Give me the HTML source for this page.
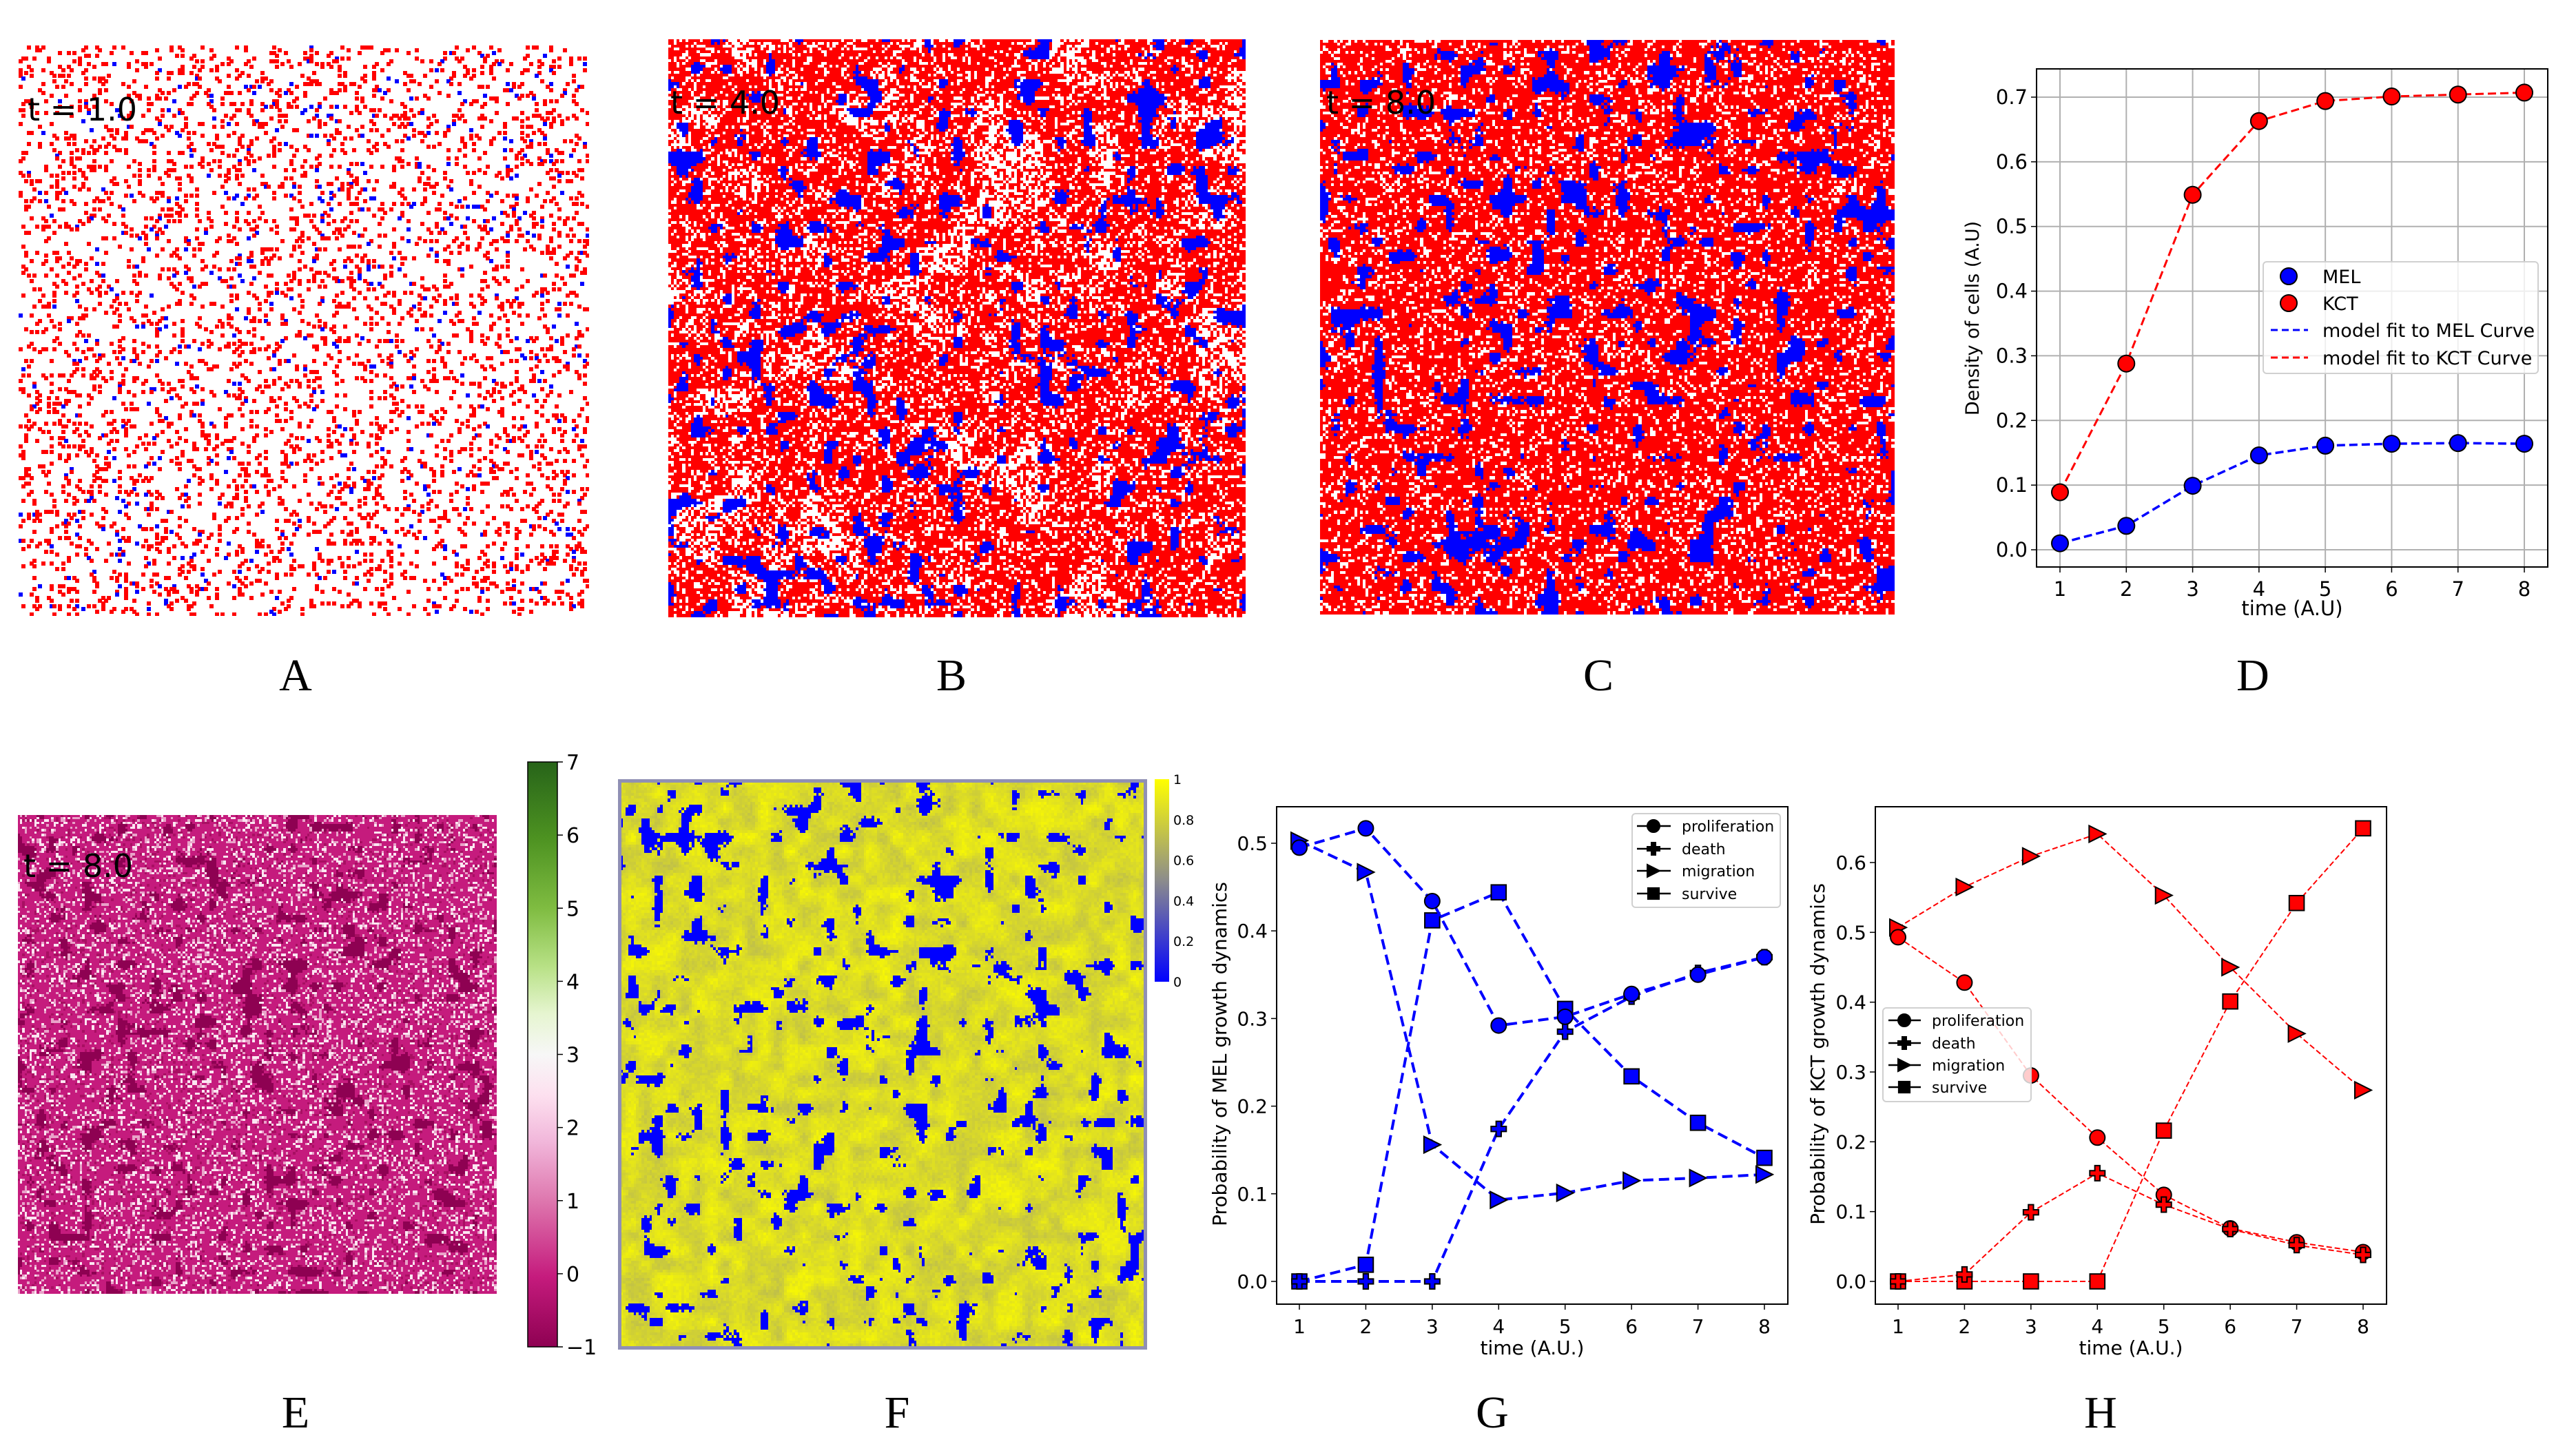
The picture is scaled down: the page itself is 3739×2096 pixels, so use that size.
<!DOCTYPE html>
<html><head><meta charset="utf-8">
<style>
html,body{margin:0;padding:0;background:#fff;}
#root{position:relative;width:3739px;height:2096px;overflow:hidden;background:#fff;font-family:"DejaVu Sans","Liberation Sans",sans-serif;}
canvas{position:absolute;image-rendering:pixelated;}
svg{position:absolute;left:0;top:0;}
</style></head>
<body>
<div id="root">
<canvas id="cA" style="left:27px;top:66px" width="828" height="828"></canvas>
<canvas id="cB" style="left:970px;top:57px" width="838" height="839"></canvas>
<canvas id="cC" style="left:1916px;top:58px" width="834" height="834"></canvas>
<canvas id="cE" style="left:26px;top:1183px" width="695" height="695"></canvas>
<canvas id="cEbar" style="left:766px;top:1106px" width="43" height="849"></canvas>
<canvas id="cF" style="left:897px;top:1131px" width="768" height="828"></canvas>
<canvas id="cFbar" style="left:1676px;top:1131px" width="21" height="294"></canvas>
<svg id="svg" width="3739" height="2096"></svg>
</div>
<script>
// ---------- chart data ----------
const times = [1,2,3,4,5,6,7,8];
const densMEL = [0.010,0.037,0.099,0.146,0.161,0.164,0.165,0.164];
const densKCT = [0.089,0.288,0.549,0.663,0.694,0.701,0.704,0.707];
const densTicks = [0.0,0.1,0.2,0.3,0.4,0.5,0.6,0.7];
const melProlif = [0.495,0.517,0.434,0.292,0.302,0.328,0.350,0.370];
const melDeath = [0.000,0.000,0.000,0.174,0.285,0.325,0.352,0.370];
const melMigr = [0.503,0.467,0.156,0.093,0.101,0.115,0.118,0.122];
const melSurv = [0.000,0.019,0.412,0.444,0.311,0.234,0.181,0.141];
const melTicks = [0.0,0.1,0.2,0.3,0.4,0.5];
const kctProlif = [0.493,0.428,0.295,0.206,0.124,0.076,0.056,0.042];
const kctDeath = [0.000,0.010,0.099,0.155,0.110,0.075,0.052,0.038];
const kctMigr = [0.507,0.565,0.609,0.641,0.553,0.450,0.355,0.274];
const kctSurv = [0.000,0.000,0.000,0.000,0.216,0.401,0.542,0.649];
const kctTicks = [0.0,0.1,0.2,0.3,0.4,0.5,0.6];
const eBarTicks = [-1,0,1,2,3,4,5,6,7];
const fBarTicks = [0,0.2,0.4,0.6,0.8,1];

const NS='http://www.w3.org/2000/svg';
const svg=document.getElementById('svg');
function mk(tag,attrs,parent){const e=document.createElementNS(NS,tag);for(const k in attrs)e.setAttribute(k,attrs[k]);(parent||svg).appendChild(e);return e;}
function txt(s,attrs,parent){const e=mk('text',attrs,parent);e.textContent=s;return e;}

// ---------- textures (decorative lattices) ----------
function rng(seed){return ()=>{seed=(Math.imul(seed,1664525)+1013904223)>>>0;return seed/4294967296;}}
function noise(n,coarse,seed){const r=rng(seed);const g=[];for(let i=0;i<(coarse+1)*(coarse+1);i++)g.push(r());
 const f=new Float32Array(n*n);for(let y=0;y<n;y++)for(let x=0;x<n;x++){const gx=x/n*coarse,gy=y/n*coarse;const ix=Math.floor(gx),iy=Math.floor(gy);let fx=gx-ix,fy=gy-iy;fx=fx*fx*(3-2*fx);fy=fy*fy*(3-2*fy);
 const a=g[iy*(coarse+1)+ix],b=g[iy*(coarse+1)+ix+1],c=g[(iy+1)*(coarse+1)+ix],d=g[(iy+1)*(coarse+1)+ix+1];
 f[y*n+x]=(a*(1-fx)+b*fx)*(1-fy)+(c*(1-fx)+d*fx)*fy;}return f;}
function draw(id,n,fn){const c=document.getElementById(id);const ctx=c.getContext('2d');const cw=c.width/n,ch=c.height/n;
 for(let y=0;y<n;y++)for(let x=0;x<n;x++){const col=fn(x,y);if(col){ctx.fillStyle=col;ctx.fillRect(Math.floor(x*cw),Math.floor(y*ch),Math.ceil(cw)+1,Math.ceil(ch)+1);}}}
const N=200;
(function(){
 let r=rng(11);
 draw('cA',N,()=>{const v=r();return v<0.105?'#ff0000':(v<0.118?'#0000ff':null);});
 let nb=noise(N,40,5),nw=noise(N,16,9);r=rng(23);
 draw('cB',N,(x,y)=>{const v=nb[y*N+x]+0.14*r();if(v>0.84)return '#0000ff';const p=nw[y*N+x]>0.68?0.45:0.76;return r()<p?'#ff0000':'#ffffff';});
 let nc=noise(N,40,77);r=rng(31);
 draw('cC',N,(x,y)=>{const v=nc[y*N+x]+0.14*r();if(v>0.84)return '#0000ff';return r()<0.8?'#ff0000':'#ffffff';});
 let ne=noise(N,42,101);r=rng(41);
 draw('cE',N,(x,y)=>{const v=ne[y*N+x]+0.18*r();if(v>0.85)return '#8e0152';const q=r();if(q<0.13)return '#fbe6f1';if(q<0.23)return '#e9a3c9';if(q<0.3)return '#a80f62';return '#c51b7d';});
 let nf=noise(N,40,303),ng=noise(N,40,404);r=rng(55);
 draw('cF',N,(x,y)=>{const v=nf[y*N+x]+0.14*r();if(v>0.84)return '#0000ff';const t=Math.min(1,Math.max(0,ng[y*N+x]*0.55+0.2*r()));
  const R=Math.round(250-t*80),G=Math.round(250-t*80),B=Math.round(0+t*100);return `rgb(${R},${G},${B})`;});
 const fc=document.getElementById('cF').getContext('2d');fc.strokeStyle='#9090b4';fc.lineWidth=5;fc.strokeRect(2.5,2.5,763,823);
 // colorbars
 const eb=document.getElementById('cEbar').getContext('2d');const ge=eb.createLinearGradient(0,849,0,0);
 [['#8e0152',0],['#c51b7d',0.12],['#de77ae',0.25],['#f1b6da',0.35],['#fde0ef',0.43],['#f7f7f7',0.5],['#e6f5d0',0.57],['#b8e186',0.65],['#7fbc41',0.75],['#4d9221',0.87],['#276419',1]].forEach(s=>ge.addColorStop(s[1],s[0]));
 eb.fillStyle=ge;eb.fillRect(0,0,43,849);
 const fb=document.getElementById('cFbar').getContext('2d');const gf=fb.createLinearGradient(0,294,0,0);
 gf.addColorStop(0,'#0000ff');gf.addColorStop(0.5,'#8c8c8c');gf.addColorStop(1,'#ffff00');fb.fillStyle=gf;fb.fillRect(0,0,21,294);
})();

// colorbar frames & ticks
mk('rect',{x:766,y:1106,width:43,height:849,fill:'none',stroke:'#000','stroke-width':1.5});
eBarTicks.forEach(v=>{const y=1955-(v+1)/8*849;
 const l=mk('line',{x1:809,x2:817,y1:y,y2:y,stroke:'#000','stroke-width':1.5});
 const t=txt((v<0?'\u22121':String(v)),{x:822,y:y+11,'font-size':30,fill:'#000'});});
fBarTicks.forEach(v=>{const y=1425-v*294;
 const t=txt(String(v),{x:1703,y:y+7,'font-size':19,fill:'#000'});});

// t labels
[['t = 1.0',40,175],['t = 4.0',973,165],['t = 8.0',1925,165],['t = 8.0',34,1273]].forEach(a=>{const t=txt(a[0],{x:a[1],y:a[2],'font-size':46,fill:'#000'});});

// panel letters
[['A',429,1002],['B',1381,1002],['C',2320,1002],['D',3270,1002],['E',429,2072],['F',1302,2072],['G',2166,2072],['H',3049,2072]].forEach(a=>{
 const t=txt(a[0],{x:a[1],y:a[2],'font-size':66,'font-family':'Liberation Serif, serif','text-anchor':'middle',fill:'#000'});
 });

// ---------- chart helpers ----------
function axes(cfg){
 const g=mk('g',{});
 const X=t=>cfg.x1+(t-1)*(cfg.x8-cfg.x1)/7;
 const Y=v=>cfg.y0+(cfg.yTop-cfg.y0)*(v/cfg.vTop);
 if(cfg.grid){times.forEach(t=>mk('line',{x1:X(t),x2:X(t),y1:cfg.T,y2:cfg.B,stroke:'#b0b0b0','stroke-width':2},g));
  cfg.ticks.forEach(v=>mk('line',{x1:cfg.L,x2:cfg.R,y1:Y(v),y2:Y(v),stroke:'#b0b0b0','stroke-width':2},g));}
 mk('rect',{x:cfg.L,y:cfg.T,width:cfg.R-cfg.L,height:cfg.B-cfg.T,fill:'none',stroke:'#000','stroke-width':2},g);
 times.forEach(t=>{mk('line',{x1:X(t),x2:X(t),y1:cfg.B,y2:cfg.B+8,stroke:'#000','stroke-width':1.5},g);
  const l=txt(String(t),{x:X(t),y:cfg.B+42,'font-size':cfg.fs,'text-anchor':'middle',fill:'#000'},g);});
 cfg.ticks.forEach(v=>{mk('line',{x1:cfg.L-8,x2:cfg.L,y1:Y(v),y2:Y(v),stroke:'#000','stroke-width':1.5},g);
  const l=txt(v.toFixed(1),{x:cfg.L-13,y:Y(v)+10,'font-size':cfg.fs,'text-anchor':'end',fill:'#000'},g);});
 const xl=txt(cfg.xlabel,{x:(cfg.L+cfg.R)/2,y:cfg.xly,'font-size':cfg.fs,'text-anchor':'middle',fill:'#000'},g);
 const yl=txt(cfg.ylabel,{x:0,y:0,'font-size':cfg.yfs||cfg.fs,'text-anchor':'middle',fill:'#000',transform:`translate(${cfg.ylx},${cfg.yly}) rotate(-90)`},g);
 return {g,X,Y};
}
function marker(type,x,y,s,fill,parent){
 const h=s/2;let e;
 if(type==='o')e=mk('circle',{cx:x,cy:y,r:h},parent);
 else if(type==='s')e=mk('rect',{x:x-h*0.9,y:y-h*0.9,width:s*0.9,height:s*0.9},parent);
 else if(type==='>')e=mk('polygon',{points:`${x+h},${y} ${x-h},${y-h} ${x-h},${y+h}`},parent);
 else {const a=h,b=h/3;e=mk('polygon',{points:`${x-b},${y-a} ${x+b},${y-a} ${x+b},${y-b} ${x+a},${y-b} ${x+a},${y+b} ${x+b},${y+b} ${x+b},${y+a} ${x-b},${y+a} ${x-b},${y+b} ${x-a},${y+b} ${x-a},${y-b} ${x-b},${y-b}`},parent);}
 e.setAttribute('fill',fill);e.setAttribute('stroke','#000');e.setAttribute('stroke-width',2);return e;
}
function series(ax,vals,color,lw,dash,mtype,ms,name){
 const g=mk('g',{},ax.g);
 const pts=vals.map((v,i)=>ax.X(times[i])+','+ax.Y(v)).join(' ');
 mk('polyline',{points:pts,fill:'none',stroke:color,'stroke-width':lw,'stroke-dasharray':dash},g);
 vals.forEach((v,i)=>{const m=marker(mtype,ax.X(times[i]),ax.Y(v),ms,color,g);});
}
function legendBox(x,y,w,h,name){const r=mk('rect',{x,y,width:w,height:h,rx:5,fill:'#fff','fill-opacity':0.8,stroke:'#d0d0d0','stroke-width':2});}

// ---------- D ----------
const axD=axes({name:'density-chart',L:2956,R:3698,T:100,B:823,x1:2990,x8:3664,y0:798,yTop:141,vTop:0.7,ticks:densTicks,grid:true,fs:29,yfs:27,
 xlabel:'time (A.U)',xly:893,ylabel:'Density of cells (A.U)',ylx:2872,yly:462});
series(axD,densKCT,'#ff0000',3,'12,6','o',24,'kct-density');
series(axD,densMEL,'#0000ff',3.5,'12,6','o',24,'mel-density');
legendBox(3285,380,399,162,'density-legend');
[['MEL','#0000ff','o',401],['KCT','#ff0000','o',440],['model fit to MEL Curve','#0000ff','l',479],['model fit to KCT Curve','#ff0000','l',519]].forEach(e=>{
 const g=mk('g',{});
 if(e[2]==='o')marker('o',3322,e[3],24,e[1],g);else mk('line',{x1:3296,x2:3350,y1:e[3],y2:e[3],stroke:e[1],'stroke-width':3,'stroke-dasharray':'10,6'},g);
 txt(e[0],{x:3371,y:e[3]+10,'font-size':27,fill:'#000'},g);});

// ---------- G ----------
const axG=axes({name:'mel-dynamics-chart',L:1853,R:2595,T:1171,B:1893,x1:1886,x8:2561,y0:1860,yTop:1224,vTop:0.5,ticks:melTicks,grid:false,fs:28,
 xlabel:'time (A.U.)',xly:1966,ylabel:'Probability of MEL growth dynamics',ylx:1780,yly:1530});
series(axG,melMigr,'#0000ff',4,'15,8','>',24,'mel-migration');
series(axG,melSurv,'#0000ff',4,'15,8','s',24,'mel-survive');
series(axG,melDeath,'#0000ff',4,'15,8','P',22,'mel-death');
series(axG,melProlif,'#0000ff',4,'15,8','o',22,'mel-proliferation');
legendBox(2369,1181,215,136,'mel-legend');
[['proliferation','o',1199],['death','P',1232],['migration','>',1264],['survive','s',1297]].forEach(e=>{
 const g=mk('g',{});
 mk('line',{x1:2376,x2:2425,y1:e[2],y2:e[2],stroke:'#000','stroke-width':2.5},g);marker(e[1],2400,e[2],18,'#000',g);
 txt(e[0],{x:2441,y:e[2]+8,'font-size':22,fill:'#000'},g);});

// ---------- H ----------
const axH=axes({name:'kct-dynamics-chart',L:2722,R:3464,T:1171,B:1893,x1:2755,x8:3430,y0:1860,yTop:1252,vTop:0.6,ticks:kctTicks,grid:false,fs:28,
 xlabel:'time (A.U.)',xly:1966,ylabel:'Probability of KCT growth dynamics',ylx:2648,yly:1530});
series(axH,kctMigr,'#ff0000',2,'8,4','>',24,'kct-migration');
series(axH,kctSurv,'#ff0000',2,'8,4','s',24,'kct-survive');
series(axH,kctProlif,'#ff0000',2,'8,4','o',22,'kct-proliferation');
series(axH,kctDeath,'#ff0000',2,'8,4','P',22,'kct-death');
legendBox(2733,1463,215,136,'kct-legend');
[['proliferation','o',1481],['death','P',1514],['migration','>',1546],['survive','s',1578]].forEach(e=>{
 const g=mk('g',{});
 mk('line',{x1:2741,x2:2788,y1:e[2],y2:e[2],stroke:'#000','stroke-width':2.5},g);marker(e[1],2764,e[2],18,'#000',g);
 txt(e[0],{x:2804,y:e[2]+8,'font-size':22,fill:'#000'},g);});
</script>
</body></html>
